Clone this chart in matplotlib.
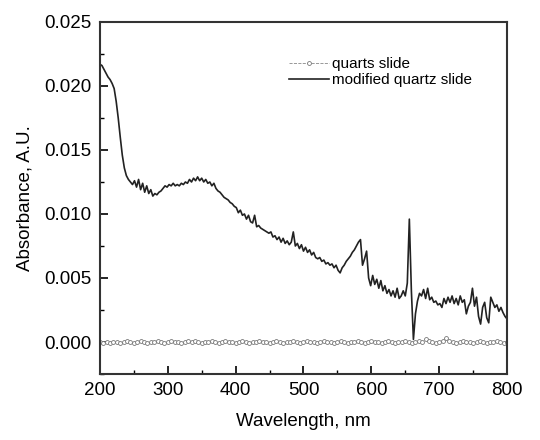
import numpy as np
import matplotlib
matplotlib.use("Agg")
import matplotlib.pyplot as plt
from matplotlib.ticker import MultipleLocator

plt.rcParams['font.family'] = ['Liberation Sans', 'DejaVu Sans']

# modified quartz slide, 200-800 nm every 3 nm
mod_wl = np.arange(200, 801, 3)
mod_abs = [
    .0217, .0216, .0213, .0210, .0207, .0205, .0202, .0198, .0188, .0175,
    .0160, .0146, .0136, .0130, .0127, .0125, .0123, .0126, .0121, .0127,
    .0119, .0124, .0117, .0122, .0116, .0119, .0114, .0116, .0115, .0117,
    .0118, .0120, .0122, .0121, .0123, .0122, .0124, .0122, .0123, .0122,
    .0124, .0123, .0125, .0124, .0127, .0125, .0128, .0126, .0129, .0126,
    .0128, .0125, .0127, .0124, .0125, .0122, .0124, .0120, .0118, .0117,
    .0115, .0113, .0112, .0111, .0109, .0108, .0106, .0105, .0101, .0103,
    .0099, .0100, .0096, .0099, .0094, .0093, .0099, .0090, .0091, .0089,
    .0088, .0087, .0086, .0085, .0086, .0082, .0083, .0080, .0082, .0078,
    .0081, .0077, .0079, .0076, .0078, .0086, .0075, .0077, .0073, .0076,
    .0071, .0074, .0070, .0072, .0068, .0070, .0066, .0065, .0066, .0063,
    .0064, .0061, .0062, .0060, .0061, .0058, .0060, .0056, .0054, .0058,
    .0060, .0063, .0065, .0067, .0070, .0072, .0075, .0078, .0080, .0060,
    .0065, .0071, .0050, .0044, .0052, .0045, .0049, .0042, .0048, .0040,
    .0044, .0038, .0041, .0036, .0040, .0035, .0042, .0034, .0036, .0040,
    .0036, .0046, .0096, .0040, .0002, .0022, .0032, .0038, .0036, .0041,
    .0034, .0042, .0033, .0035, .0031, .0032, .0029, .0030, .0027, .0034,
    .0030, .0035, .0031, .0036, .0030, .0034, .0029, .0036, .0031, .0033,
    .0022, .0028, .0031, .0042, .0028, .0035, .0020, .0014, .0027, .0031,
    .0019, .0015, .0035, .0031, .0027, .0029, .0024, .0027, .0023, .0020,
    .0018,
]

# bare quartz slide, 200-800 nm every 5 nm
bare_wl = np.arange(200, 801, 5)
bare_abs = [
    0.0000, -0.0001, 0.0000, -0.0001, 0.0000, 0.0000, -0.0001, 0.0000, 0.0001, 0.0000,
    -0.0001, 0.0000, 0.0001, 0.0000, -0.0001, 0.0000, 0.0000, 0.0001, 0.0000, -0.0001,
    0.0000, 0.0001, 0.0000, 0.0000, -0.0001, 0.0000, 0.0001, 0.0000, 0.0001, 0.0000,
    -0.0001, 0.0000, 0.0000, 0.0001, 0.0000, -0.0001, 0.0000, 0.0001, 0.0000, 0.0000,
    -0.0001, 0.0000, 0.0001, 0.0000, -0.0001, 0.0000, 0.0000, 0.0001, 0.0000, 0.0000,
    -0.0001, 0.0000, 0.0001, 0.0000, -0.0001, 0.0000, 0.0000, 0.0001, 0.0000, -0.0001,
    0.0000, 0.0001, 0.0000, 0.0000, -0.0001, 0.0000, 0.0001, 0.0000, 0.0000, -0.0001,
    0.0000, 0.0001, 0.0000, -0.0001, 0.0000, 0.0000, 0.0001, 0.0000, -0.0001, 0.0000,
    0.0001, 0.0000, 0.0000, -0.0001, 0.0000, 0.0001, 0.0000, -0.0001, 0.0000, 0.0000,
    0.0001, 0.0000, -0.0001, 0.0000, 0.0001, 0.0000, 0.0002, 0.0001, 0.0000, -0.0001,
    0.0000, 0.0001, 0.0003, 0.0001, 0.0000, -0.0001, 0.0000, 0.0001, 0.0000, 0.0000,
    -0.0001, 0.0000, 0.0001, 0.0000, -0.0001, 0.0000, 0.0000, 0.0001, 0.0000, -0.0001,
    0.0000,
]

xticks = [200, 300, 400, 500, 600, 700, 800]
yticks = [0.000, 0.005, 0.010, 0.015, 0.020, 0.025]

fig = plt.figure(figsize=(5.4, 4.4), dpi=100)
ax = fig.add_axes([0.185, 0.15, 0.754, 0.80])

ax.plot(bare_wl, bare_abs, color='#888888', linestyle='--', linewidth=0.6,
        marker='o', markersize=2.8, markerfacecolor='white', markeredgecolor='#777777',
        markeredgewidth=0.6, label='quarts slide')
ax.plot(mod_wl, mod_abs, color='#222222', linewidth=1.2, label='modified quartz slide')

ax.set_xlim(200, 800)
ax.set_ylim(-0.0025, 0.025)
ax.set_xticks(xticks)
ax.set_yticks(yticks)
ax.set_yticklabels([f"{v:.3f}" for v in yticks])
ax.xaxis.set_minor_locator(MultipleLocator(50))
ax.yaxis.set_minor_locator(MultipleLocator(0.0025))
ax.tick_params(which='major', direction='in', length=6, width=1.2, labelsize=13.5,
               top=False, right=False, pad=6)
ax.tick_params(which='minor', direction='in', length=3, width=1.0, top=False, right=False)
for s in ax.spines.values():
    s.set_linewidth(1.5)
    s.set_color('#333333')

ax.set_xlabel('Wavelength, nm', fontsize=13.5, labelpad=10)
ax.set_ylabel('Absorbance, A.U.', fontsize=13.5, labelpad=8)

leg = ax.legend(loc='upper left', bbox_to_anchor=(0.465, 0.90), frameon=False,
                fontsize=11, handlelength=2.6, handletextpad=0.2, borderaxespad=0.0,
                borderpad=0.0, labelspacing=0.15)

fig.savefig('out.png', dpi=100)
